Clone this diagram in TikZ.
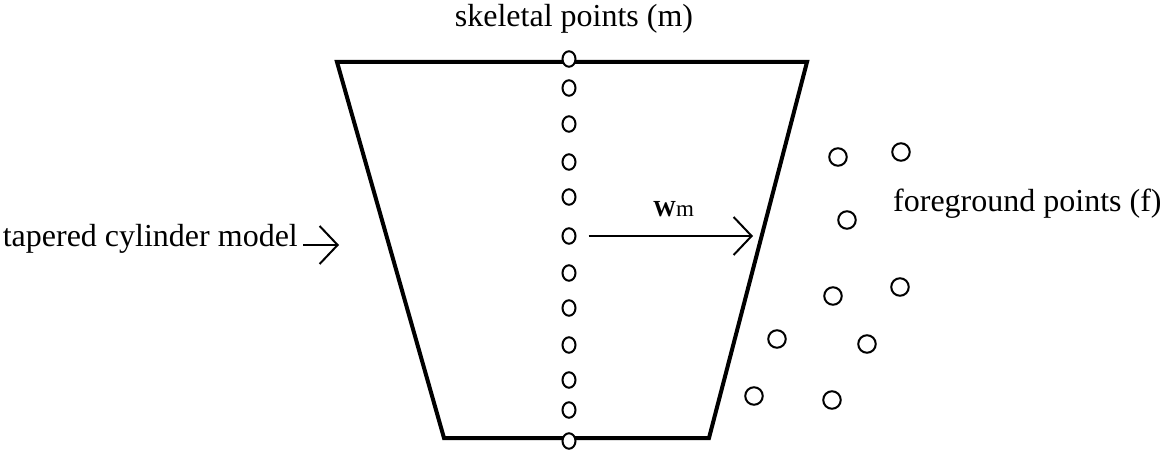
\documentclass[tikz,border=0pt]{standalone}
\usepackage{fontspec}
\setmainfont{Liberation Serif}
\usetikzlibrary{arrows.meta,shapes.geometric}
\tikzset{
  skp/.style={ellipse, draw=black, fill=white, line width=2pt, minimum width=13pt,
              minimum height=15.5pt, inner sep=0pt},                        % skeletal point
  fgp/.style={circle, draw=black, fill=white, line width=2pt, minimum size=17.5pt,
              inner sep=0pt},                                               % foreground point
  cyl/.style={draw=black, line width=4pt, line join=miter},                 % cylinder outline
  ar/.style={draw=black, line width=2pt,
             -{Straight Barb[length=18pt,width=38pt,line width=2pt]}},      % open arrow
  lbl/.style={font=\fontsize{32}{38}\selectfont, inner sep=0pt},
}

\begin{document}
\begin{tikzpicture}[x=1pt,y=-1pt]
  \useasboundingbox (0,0) rectangle (1173,454);
  % tapered cylinder
  \coordinate (tl) at (337,62);
  \coordinate (tr) at (807,62);
  \coordinate (br) at (709,438);
  \coordinate (bl) at (444,438);
  \draw[cyl] (tl) -- (tr) -- (br) -- (bl) -- cycle;
  % skeletal points
  \foreach \y [count=\i] in {59,88,124,162,197,236,273,308,345,380,410,441}
    \node[skp] (s\i) at (569,\y) {};
  % foreground points
  \foreach \x/\y [count=\i] in {838/157,901/152,847/220,833/296,900/287,
                                777/339,867/344,754/396,832/400}
    \node[fgp] (f\i) at (\x,\y) {};
  % labels
  \node[lbl, anchor=base] (skl) at (574,27) {skeletal points (m)};
  \node[lbl, anchor=base west] (fgl) at (893,212) {foreground points (f)};
  \node[lbl, anchor=base east] (tcm) at (298,247) {tapered cylinder model};
  \node[font=\fontsize{23}{27}\selectfont, inner sep=0pt, anchor=base west] (wm)
    at (653,217) {\textbf{W}m};
  % arrows
  \coordinate (ta) at (339,245);
  \coordinate (wt) at (753,236);
  \draw[ar, shorten <=5pt] (tcm.east |- ta) -- (ta);
  \draw[ar, shorten <=12pt] (s6) -- (wt);
\end{tikzpicture}
\end{document}
